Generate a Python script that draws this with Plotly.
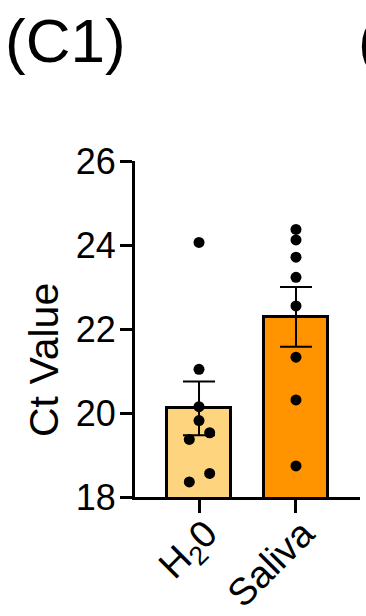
import plotly.graph_objects as go

categories = ["H<sub>2</sub>0", "Saliva"]
bar_means = [20.11, 22.29]
bar_sem = [0.64, 0.71]
bar_colors = ["#FFD47F", "#FF9300"]

h2o_points = [24.06, 21.04, 20.15, 19.82, 19.53, 19.37, 18.56, 18.36]
h2o_jitter = [0.0, 0.0, 0.0, 0.0, 0.11, -0.10, 0.11, -0.10]
saliva_points = [24.37, 24.12, 23.71, 23.23, 22.55, 21.33, 20.31, 18.74]
saliva_jitter = [0, 0, 0, 0, 0, 0, 0, 0]

y_ticks = [18, 20, 22, 24, 26]

FONT = "Arial, Liberation Sans, sans-serif"
pos = list(range(len(categories)))

fig = go.Figure()
fig.add_trace(go.Bar(
    x=pos, y=bar_means, width=0.65,
    marker=dict(color=bar_colors, line=dict(color="black", width=3)),
    showlegend=False,
))
fig.add_trace(go.Scatter(
    x=pos, y=bar_means, mode="markers", marker=dict(size=1, color="rgba(0,0,0,0)"),
    error_y=dict(type="data", array=bar_sem, visible=True, color="black", thickness=2, width=16),
    showlegend=False,
))
fig.add_trace(go.Scatter(
    x=[pos[0] + j for j in h2o_jitter], y=h2o_points, mode="markers",
    marker=dict(size=11, color="black"), showlegend=False,
))
fig.add_trace(go.Scatter(
    x=[pos[1] + j for j in saliva_jitter], y=saliva_points, mode="markers",
    marker=dict(size=11, color="black"), showlegend=False,
))

ML, MR, MT, MB = 135, 6, 161, 119
W, H = 366, 616
pw, ph = W - ML - MR, H - MT - MB


def px(xp):
    return (xp - ML) / pw


def py(yp):
    return (H - MB - yp) / ph


fig.update_layout(
    width=W, height=H,
    margin=dict(l=ML, r=MR, t=MT, b=MB),
    paper_bgcolor="white", plot_bgcolor="white",
    font=dict(family=FONT, color="black"),
    bargap=0,
    annotations=[
        dict(text="(C1)", x=px(3), y=py(4), xref="paper", yref="paper", showarrow=False,
             xanchor="left", yanchor="top", font=dict(size=62, family=FONT)),
        dict(text="(C2)", x=px(356), y=py(4), xref="paper", yref="paper", showarrow=False,
             xanchor="left", yanchor="top", font=dict(size=62, family=FONT)),
        dict(text="Ct Value", x=px(44), y=py(360), xref="paper", yref="paper", showarrow=False,
             xanchor="center", yanchor="middle", textangle=-90, font=dict(size=41, family=FONT)),
    ],
)
fig.update_xaxes(
    range=[-0.66, 1.66], tickvals=pos, ticktext=categories, tickangle=-45,
    showline=True, linecolor="black", linewidth=3, ticks="outside", ticklen=13,
    tickwidth=3, tickcolor="black", tickfont=dict(size=38, family=FONT),
    ticklabelstandoff=-17, ticklabelshift=7,
    showgrid=False, zeroline=False, automargin=False,
)
fig.update_yaxes(
    range=[18, 26], tickvals=y_ticks, showline=True, linecolor="black", linewidth=3,
    ticks="outside", ticklen=12, tickwidth=3, tickcolor="black",
    tickfont=dict(size=36, family=FONT), ticklabelstandoff=-3,
    showgrid=False, zeroline=False, automargin=False,
)
fig.write_html("out.html")
